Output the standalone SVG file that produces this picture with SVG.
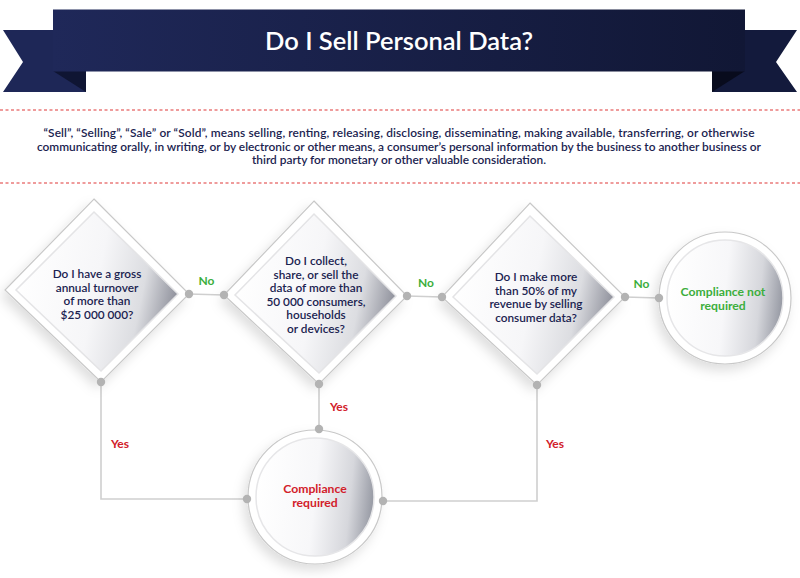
<svg xmlns="http://www.w3.org/2000/svg" width="800" height="578" viewBox="0 0 800 578">
<defs>
  <linearGradient id="band" x1="0" y1="0" x2="1" y2="0">
    <stop offset="0" stop-color="#1f2859"/>
    <stop offset="1" stop-color="#111735"/>
  </linearGradient>
  <linearGradient id="shade" x1="0" y1="0.35" x2="1" y2="0.55">
    <stop offset="0" stop-color="#ffffff"/>
    <stop offset="0.5" stop-color="#f6f6f8"/>
    <stop offset="0.78" stop-color="#dcdde1"/>
    <stop offset="1" stop-color="#8c8e99"/>
  </linearGradient>
  <linearGradient id="cshade" x1="0" y1="0.4" x2="1" y2="0.5">
    <stop offset="0" stop-color="#ffffff"/>
    <stop offset="0.5" stop-color="#f7f7f9"/>
    <stop offset="0.8" stop-color="#d6d7dc"/>
    <stop offset="1" stop-color="#979aa4"/>
  </linearGradient>
  <filter id="sh" x="-30%" y="-30%" width="160%" height="160%">
    <feDropShadow dx="-4" dy="6" stdDeviation="6" flood-color="#000" flood-opacity="0.13"/>
  </filter>
</defs>
<style>
  .outer { fill: #ffffff; stroke: #c8c8c8; stroke-width: 1.2; }
  .inner { fill: url(#shade); stroke: #e4e4e6; stroke-width: 1.5; }
  .cinner { fill: url(#cshade); stroke: #e6e6e8; stroke-width: 1.5; }
  .q { font-family: Lato, "Open Sans", sans-serif; font-weight: 600; font-size: 11.8px; fill: #1b2350; text-anchor: middle; }
  .para { font-family: Lato, "Open Sans", sans-serif; font-weight: 600; font-size: 11.9px; fill: #1b2350; text-anchor: middle; }
  .no { font-family: Lato, "Open Sans", sans-serif; font-weight: 700; font-size: 12px; fill: #3cae3c; text-anchor: middle; }
  .yes { font-family: Lato, "Open Sans", sans-serif; font-weight: 700; font-size: 12px; fill: #d2202a; text-anchor: middle; }
  .cg { font-family: Lato, "Open Sans", sans-serif; font-weight: 700; font-size: 12.2px; fill: #3cae3c; text-anchor: middle; }
  .cr { font-family: Lato, "Open Sans", sans-serif; font-weight: 700; font-size: 12.2px; fill: #d2202a; text-anchor: middle; }
  .conn { fill: none; stroke: #cfcfcf; stroke-width: 1.6; }
  .dot { fill: #b3b3b3; }
  .dash { stroke: #ea7b7b; stroke-width: 1.3; stroke-dasharray: 3 2.5; }
</style>
<rect width="800" height="578" fill="#ffffff"/>

<g id="banner">
  <polygon points="3,30 86,30 86,92 3,92 23,62" fill="#1e2757"/>
  <polygon points="53,71 86,71 86,92" fill="#0f1533"/>
  <polygon points="797,30 712,30 712,92 797,92 776,62" fill="#131a3c"/>
  <polygon points="745,71 712,71 712,92" fill="#080b1d"/>
  <rect x="53" y="9.5" width="692" height="62" fill="url(#band)"/>
  <text x="399" y="50" font-family="Lato, 'Open Sans', sans-serif" font-weight="600" font-size="25.5" fill="#ffffff" text-anchor="middle">Do I Sell Personal Data?</text>
</g>

<g id="definition">
  <line class="dash" x1="0" y1="110" x2="800" y2="110"/>
  <line class="dash" x1="0" y1="183" x2="800" y2="183"/>
  <text class="para" x="399" y="137" textLength="711" lengthAdjust="spacing">“Sell”, “Selling”, “Sale” or “Sold”, means selling, renting, releasing, disclosing, disseminating, making available, transferring, or otherwise</text>
  <text class="para" x="399" y="150.5" textLength="724" lengthAdjust="spacing">communicating orally, in writing, or by electronic or other means, a consumer’s personal information by the business to another business or</text>
  <text class="para" x="399" y="164" textLength="294" lengthAdjust="spacing">third party for monetary or other valuable consideration.</text>
</g>

<g id="connectors">
  <line class="conn" x1="189" y1="294" x2="224" y2="295"/>
  <line class="conn" x1="407" y1="296" x2="442" y2="297"/>
  <line class="conn" x1="625" y1="297" x2="659" y2="298"/>
  <polyline class="conn" points="101,382 101,499 247,499"/>
  <line class="conn" x1="319" y1="384" x2="319" y2="429"/>
  <polyline class="conn" points="537,385 537,501 383,501"/>
  <text class="no" x="206.5" y="285">No</text>
  <text class="no" x="426" y="287">No</text>
  <text class="no" x="641.5" y="288">No</text>
  <text class="yes" x="120" y="448">Yes</text>
  <text class="yes" x="339" y="411">Yes</text>
  <text class="yes" x="555" y="448">Yes</text>
</g>

<g id="q1">
  <polygon class="outer" filter="url(#sh)" points="94,199 189,294 101,382 5,290"/>
  <polygon class="inner" points="94,212 178,294 101,371 16,290"/>
  <text class="q" x="97" y="278">Do I have a gross</text>
  <text class="q" x="97" y="291.6">annual turnover</text>
  <text class="q" x="97" y="305.2">of more than</text>
  <text class="q" x="97" y="318.8">$25 000 000?</text>
</g>

<g id="q2">
  <polygon class="outer" filter="url(#sh)" points="314,201 407,296 319,384 224,295"/>
  <polygon class="inner" points="314,214 396,296 319,373 235,295"/>
  <text class="q" x="316" y="265">Do I collect,</text>
  <text class="q" x="316" y="278.6">share, or sell the</text>
  <text class="q" x="316" y="292.2">data of more than</text>
  <text class="q" x="316" y="305.8">50 000 consumers,</text>
  <text class="q" x="316" y="319.4">households</text>
  <text class="q" x="316" y="333">or devices?</text>
</g>

<g id="q3">
  <polygon class="outer" filter="url(#sh)" points="530,203 625,297 537,385 442,297"/>
  <polygon class="inner" points="530,216 614,297 537,374 453,297"/>
  <text class="q" x="536" y="281">Do I make more</text>
  <text class="q" x="536" y="294.6">than 50% of my</text>
  <text class="q" x="536" y="308.2">revenue by selling</text>
  <text class="q" x="536" y="321.8">consumer data?</text>
</g>

<g id="not-required">
  <circle class="outer" filter="url(#sh)" cx="725" cy="298" r="66"/>
  <circle class="cinner" cx="725" cy="298" r="58"/>
  <text class="cg" x="723" y="296">Compliance not</text>
  <text class="cg" x="723" y="309.5">required</text>
</g>

<g id="required">
  <circle class="outer" filter="url(#sh)" cx="315" cy="497" r="67"/>
  <circle class="cinner" cx="315" cy="497" r="59"/>
  <text class="cr" x="315" y="493">Compliance</text>
  <text class="cr" x="315" y="506.5">required</text>
</g>

<g id="connector-dots">
  <circle class="dot" cx="189" cy="294" r="4.2"/>
  <circle class="dot" cx="224" cy="295" r="4.2"/>
  <circle class="dot" cx="407" cy="296" r="4.2"/>
  <circle class="dot" cx="442" cy="297" r="4.2"/>
  <circle class="dot" cx="625" cy="297" r="4.2"/>
  <circle class="dot" cx="659" cy="298" r="4.2"/>
  <circle class="dot" cx="101" cy="382" r="4.2"/>
  <circle class="dot" cx="247" cy="499" r="4.2"/>
  <circle class="dot" cx="319" cy="384" r="4.2"/>
  <circle class="dot" cx="319" cy="429" r="4.2"/>
  <circle class="dot" cx="537" cy="385" r="4.2"/>
  <circle class="dot" cx="383" cy="501" r="4.2"/>
</g>
</svg>
